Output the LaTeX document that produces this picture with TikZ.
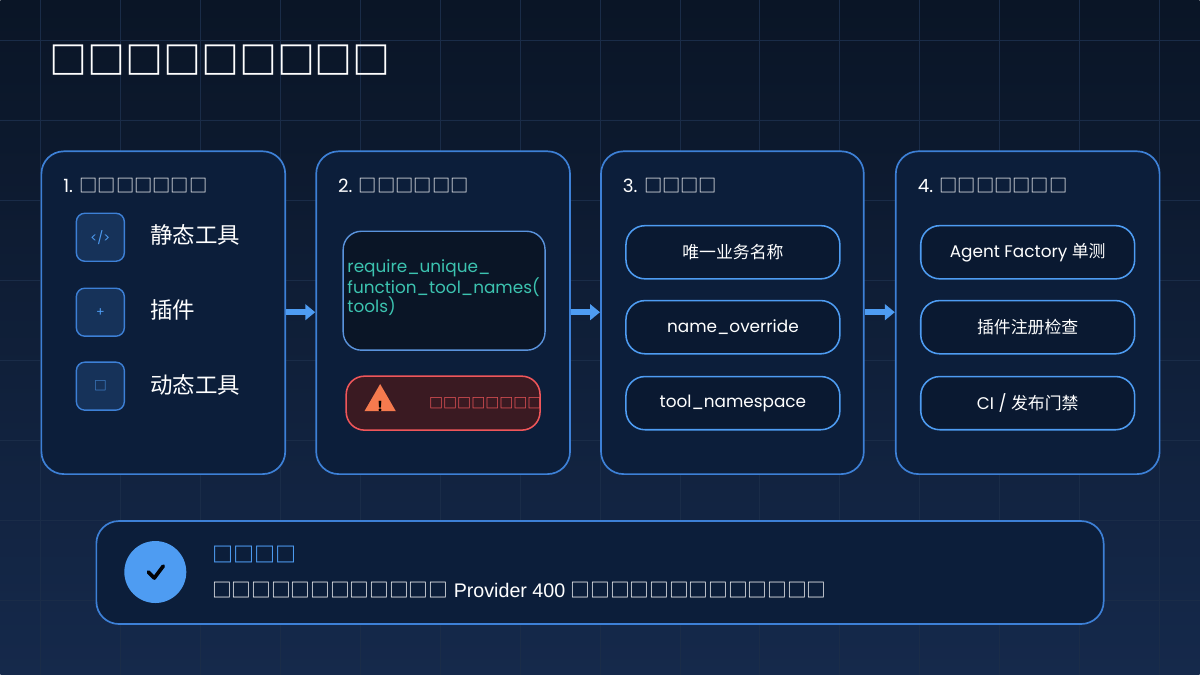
\documentclass[tikz,border=0pt]{standalone}
\usepackage{fontspec}
\setmainfont{Poppins}
\newfontfamily\cjk{Noto Sans CJK SC}
\newfontfamily\arial{Liberation Sans}
\usetikzlibrary{shapes.geometric, arrows.meta}
\definecolor{bgtop}{HTML}{0A1526}
\definecolor{bgbot}{HTML}{15294B}
\definecolor{cardfill}{HTML}{0C1E3A}
\definecolor{cardline}{HTML}{3D80D6}
\definecolor{accent}{HTML}{4E9CF2}
\definecolor{codeteal}{HTML}{3CC3B0}
\definecolor{warnred}{HTML}{F0565A}
\definecolor{warnfill}{HTML}{3A1A22}
\definecolor{warntri}{HTML}{F57A4E}
\definecolor{gridline}{HTML}{1A2C48}
\newcommand{\tofu}[1]{{\cjk\foreach \k in {1,...,#1}{□}}}

\begin{document}
\begin{tikzpicture}[x=0.025cm, y=-0.025cm,
    card/.style={draw=cardline, fill=cardfill, line width=1.2pt, rounded corners=16},
    icon/.style={draw=cardline, fill=cardfill!80!cardline, line width=1pt, rounded corners=6, minimum size=1.2cm, inner sep=0pt, text=accent},
    pill/.style={draw=accent, fill=cardfill!85!black, line width=1.1pt, rounded corners=13.5, minimum width=5.35cm, minimum height=1.33cm, text=white, font=\fontsize{12}{14}\selectfont},
    ctitle/.style={anchor=west, text=white, font=\fontsize{13}{15}\selectfont},
    flow/.style={-{Triangle[length=7pt,width=11pt]}, line width=4pt, draw=accent}]
    % background and grid
    \shade[top color=bgtop, bottom color=bgbot] (0,0) rectangle (1200,675);
    \foreach \gx in {40,120,...,1200} \draw[gridline, line width=0.6pt] (\gx,0) -- (\gx,675);
    \foreach \gy in {40,120,...,675} \draw[gridline, line width=0.6pt] (0,\gy) -- (1200,\gy);
    \useasboundingbox (0,0) rectangle (1200,675);

    % title
    \node[anchor=west, text=white, font=\fontsize{27}{30}\selectfont\bfseries] (title) at (44,60) {\tofu{9}};

    % cards
    \draw[card] (41,151) rectangle (285,474);
    \draw[card] (316,151) rectangle (570,474);
    \draw[card] (601,151) rectangle (864,474);
    \draw[card] (896,151) rectangle (1160,474);
    \node[ctitle] (t1) at (58,185) {1. \tofu{7}};
    \node[ctitle] (t2) at (333,185) {2. \tofu{6}};
    \node[ctitle] (t3) at (618,185) {3. \tofu{4}};
    \node[ctitle] (t4) at (913,185) {4. \tofu{7}};

    % card 1
    \node[icon, font=\fontsize{9}{10}\selectfont] (i1) at (100,237) {</>};
    \node[icon, font=\fontsize{9}{10}\selectfont] (i2) at (100,312) {+};
    \node[icon, font=\fontsize{9}{10}\cjk] (i3) at (100,386) {□};
    \node[anchor=west, text=white, font=\fontsize{16}{18}\cjk] (l1) at (145,235) {静态工具};
    \node[anchor=west, text=white, font=\fontsize{16}{18}\cjk] (l2) at (145,310) {插件};
    \node[anchor=west, text=white, font=\fontsize{16}{18}\cjk] (l3) at (145,385) {动态工具};

    % card 2
    \draw[draw=cardline!85!white, fill=bgtop, line width=1pt, rounded corners=13] (343,231) rectangle (545,350);
    \node[anchor=north west, align=left, text=codeteal, inner sep=0pt, font=\fontsize{12}{13.5}\selectfont] (code) at (347,259)
        {require\_unique\_\\function\_tool\_names(\\tools)};
    \draw[draw=warnred, fill=warnfill, line width=1.1pt, rounded corners=13] (346,376) rectangle (540,430);
    \node[isosceles triangle, isosceles triangle apex angle=60, shape border rotate=90, fill=warntri, inner sep=0pt, minimum height=0.68cm] (warn) at (380,402) {};
    \node[text=black, font=\fontsize{10}{10}\selectfont\bfseries] at (380,406) {!};
    \node[anchor=west, text=warnred, font=\fontsize{10}{12}\selectfont\bfseries] (wtext) at (424,403) {\tofu{8}};

    % card 3
    \node[pill] (p31) at (733,252) {\cjk 唯一业务名称};
    \node[pill] (p32) at (733,327) {name\_override};
    \node[pill] (p33) at (733,403) {tool\_namespace};

    % card 4
    \node[pill] (p41) at (1028,252) {Agent Factory {\cjk 单测}};
    \node[pill] (p42) at (1028,327) {\cjk 插件注册检查};
    \node[pill] (p43) at (1028,403) {CI / {\cjk 发布门禁}};

    % flow arrows
    \coordinate (a1s) at (286,312); \coordinate (a1e) at (315,312);
    \coordinate (a2s) at (571,312); \coordinate (a2e) at (600,312);
    \coordinate (a3s) at (865,312); \coordinate (a3e) at (895,312);
    \draw[flow] (a1s) -- (a1e);
    \draw[flow] (a2s) -- (a2e);
    \draw[flow] (a3s) -- (a3e);

    % bottom summary
    \draw[card] (96,521) rectangle (1104,624);
    \node[circle, fill=accent, minimum size=1.55cm] (ok) at (155,572) {};
    \draw[black!85!bgtop, line width=2.6pt, line cap=round, line join=round] (148,572) -- (154,578) -- (163,566);
    \node[anchor=west, text=accent, font=\fontsize{15}{17}\selectfont\bfseries] (stitle) at (207,554) {\tofu{4}};
    \node[anchor=west, text=white, font=\fontsize{14}{16}\arial] (sline) at (207,590) {\tofu{12} Provider 400 \tofu{13}};
\end{tikzpicture}
\end{document}
